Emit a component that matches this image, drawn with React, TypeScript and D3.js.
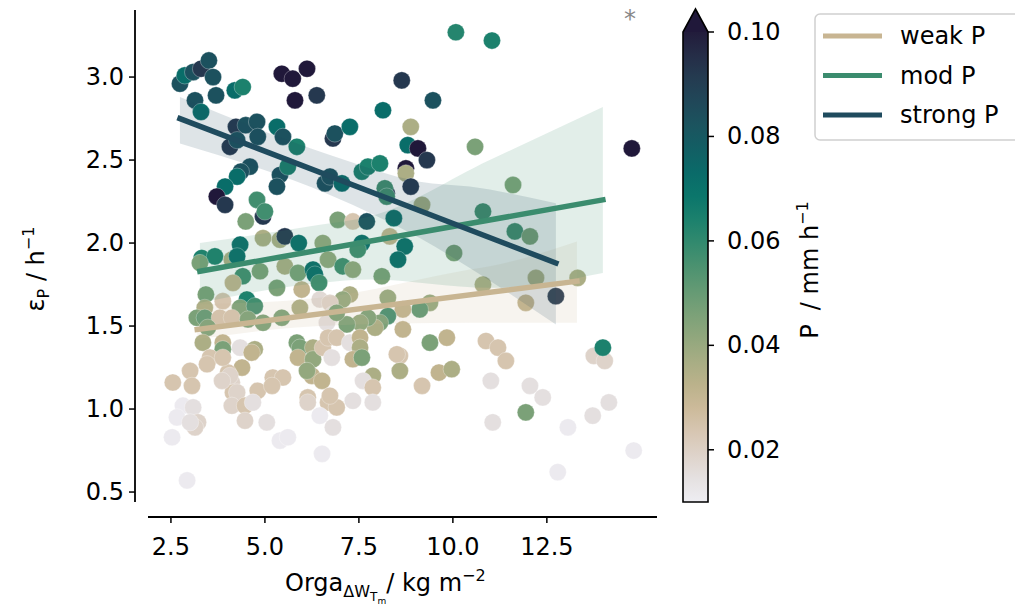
import React, { useEffect, useRef } from "react";
import * as d3 from "d3";

// scatter: organisation (x), epsilon_P (y), precipitation P (colour)
const orgaX = [
  2.74, 2.87, 3.09, 3.3, 3.51, 3.62, 3.14, 3.3, 3.7, 4.2, 4.41, 5.45, 5.74, 6.12, 5.8, 6.38,
  4.23, 4.49, 4.79, 4.81, 5.32, 5.48, 5.85, 4.07, 4.26, 4.6, 4.36, 4.26, 3.94, 3.72, 3.94,
  5.4, 5.61, 5.32, 4.79, 4.95, 5.0, 4.49, 6.6, 6.73, 6.81, 6.86, 7.26, 8.14, 8.64, 9.47,
  8.88, 8.8, 9.07, 9.31, 8.75, 8.75, 8.88, 10.59, 10.08, 11.04, 14.76, 7.58, 7.74, 8.06,
  7.05, 8.24, 8.19, 8.24, 9.18, 10.8, 11.6, 11.65, 12.05, 10.03, 6.94, 7.34, 7.71, 8.43,
  8.32, 8.72, 7.58, 7.47, 8.54, 4.95, 5.4, 5.53, 5.9, 4.34, 3.32, 3.67, 3.27, 4.12, 4.26,
  4.41, 4.87, 5.53, 4.15, 5.32, 5.88, 6.28, 6.33, 6.44, 5.98, 6.54, 6.68, 7.07, 7.34, 8.11,
  3.43, 3.88, 3.4, 4.52, 4.34, 4.73, 3.19, 3.4, 3.8, 4.12, 4.55, 4.95, 5.45, 5.93, 6.46,
  3.48, 3.35, 3.88, 4.34, 3.88, 4.73, 3.54, 3.46, 4.39, 4.65, 5.85, 5.93, 6.28, 5.88, 6.28,
  6.54, 3.01, 2.55, 3.06, 4.02, 4.12, 5.21, 5.48, 6.25, 6.52, 4.15, 4.81, 7.26, 7.07, 6.73,
  8.27, 9.39, 9.12, 8.67, 8.27, 8.06, 7.93, 7.74, 7.53, 7.18, 6.81, 6.65, 6.91, 8.67, 10.8,
  12.21, 13.32, 12.74, 11.94, 9.39, 9.84, 10.88, 11.2, 11.41, 8.59, 8.59, 9.63, 9.97, 9.18,
  11.01, 12.05, 12.39, 11.94, 11.06, 13.06, 13.72, 14.15, 13.75, 14.04, 13.99, 14.81, 12.79,
  6.68, 6.91, 7.26, 7.53, 7.53, 7.34, 6.78, 7.58, 8.51, 7.87, 7.61, 7.87, 7.34, 7.87, 6.68,
  6.91, 6.46, 6.81, 6.52, 6.14, 6.14, 6.12, 6.73, 3.88, 4.07, 3.86, 4.26, 4.12, 4.47, 4.68,
  5.19, 4.47, 5.05, 2.82, 3.09, 2.66, 3.22, 3.14, 3.01, 2.53, 5.4, 5.61, 2.93,
];
const epsY = [
  2.96, 3.01, 3.03, 3.05, 3.1, 3.0, 2.86, 2.79, 2.89, 2.92, 2.94, 3.02, 2.99, 3.05, 2.86, 2.89,
  2.7, 2.71, 2.73, 2.64, 2.7, 2.64, 2.58, 2.58, 2.62, 2.46, 2.43, 2.4, 2.34, 2.28, 2.23,
  2.41, 2.46, 2.34, 2.26, 2.16, 2.19, 2.13, 2.36, 2.4, 2.63, 2.66, 2.7, 2.8, 2.98, 2.86,
  2.7, 2.59, 2.57, 2.5, 2.45, 2.42, 2.34, 2.58, 3.27, 3.22, 2.57, 2.43, 2.46, 2.48,
  2.36, 2.3, 2.33, 2.28, 2.23, 2.19, 2.35, 2.07, 2.04, 1.94, 2.14, 2.13, 2.13, 2.15,
  2.04, 1.98, 2.0, 1.96, 1.9, 2.03, 2.02, 2.04, 2.0, 1.99, 1.91, 1.92, 1.88, 1.9, 1.92,
  1.8, 1.83, 1.86, 1.76, 1.73, 1.82, 1.84, 1.81, 1.76, 1.72, 2.0, 1.9, 1.86, 1.84, 1.8,
  1.69, 1.65, 1.61, 1.66, 1.61, 1.62, 1.55, 1.55, 1.55, 1.55, 1.54, 1.52, 1.55, 1.61, 1.66,
  1.49, 1.4, 1.4, 1.37, 1.36, 1.36, 1.31, 1.27, 1.25, 1.34, 1.4, 1.37, 1.37, 1.31, 1.3,
  1.37, 1.23, 1.16, 1.14, 1.22, 1.16, 1.19, 1.19, 1.2, 1.17, 1.1, 1.11, 1.69, 1.66, 1.64,
  1.67, 1.64, 1.6, 1.6, 1.56, 1.52, 1.49, 1.55, 1.52, 1.51, 1.57, 1.52, 1.58, 1.48, 1.75,
  1.79, 1.79, 1.68, 1.64, 1.4, 1.43, 1.41, 1.37, 1.29, 1.32, 1.23, 1.22, 1.24, 1.14,
  1.17, 1.14, 1.07, 0.98, 0.92, 0.89, 0.96, 1.04, 1.32, 1.29, 1.37, 0.75, 0.62,
  1.43, 1.43, 1.4, 1.43, 1.37, 1.3, 1.31, 1.31, 1.33, 1.2, 1.17, 1.13, 1.05, 1.04, 1.04,
  1.01, 0.96, 0.89, 0.73, 1.07, 1.04, 1.23, 1.08, 1.31, 1.2, 1.17, 1.1, 1.02, 1.02, 1.04,
  1.14, 0.93, 0.92, 1.02, 1.01, 0.95, 0.92, 0.89, 0.92, 0.83, 0.81, 0.83, 0.57,
];
const precip = [
  0.083, 0.072, 0.083, 0.092, 0.083, 0.083, 0.083, 0.072, 0.083, 0.072, 0.064, 0.105, 0.105, 0.105, 0.105, 0.092,
  0.092, 0.083, 0.083, 0.083, 0.072, 0.083, 0.064, 0.092, 0.083, 0.083, 0.083, 0.072, 0.072, 0.105, 0.092,
  0.083, 0.064, 0.083, 0.057, 0.092, 0.057, 0.046, 0.083, 0.083, 0.092, 0.083, 0.072, 0.072, 0.092, 0.083,
  0.036, 0.072, 0.105, 0.092, 0.105, 0.036, 0.092, 0.046, 0.062, 0.064, 0.105, 0.064, 0.064, 0.064,
  0.072, 0.092, 0.057, 0.057, 0.036, 0.057, 0.046, 0.057, 0.046, 0.046, 0.046, 0.024, 0.083, 0.072,
  0.031, 0.072, 0.072, 0.057, 0.072, 0.036, 0.036, 0.092, 0.072, 0.072, 0.064, 0.064, 0.046, 0.036, 0.072,
  0.057, 0.046, 0.036, 0.031, 0.046, 0.046, 0.072, 0.072, 0.057, 0.031, 0.041, 0.041, 0.057, 0.041, 0.046,
  0.046, 0.024, 0.036, 0.064, 0.046, 0.057, 0.046, 0.052, 0.024, 0.024, 0.046, 0.046, 0.046, 0.036, 0.017,
  0.046, 0.036, 0.031, 0.015, 0.046, 0.036, 0.024, 0.024, 0.031, 0.031, 0.046, 0.046, 0.036, 0.031, 0.041,
  0.024, 0.024, 0.024, 0.024, 0.024, 0.019, 0.024, 0.024, 0.031, 0.031, 0.024, 0.024, 0.036, 0.041, 0.019,
  0.041, 0.041, 0.052, 0.031, 0.057, 0.046, 0.036, 0.046, 0.041, 0.046, 0.015, 0.015, 0.046, 0.031, 0.036,
  0.036, 0.036, 0.092, 0.031, 0.046, 0.031, 0.024, 0.024, 0.024, 0.024, 0.036, 0.031, 0.036, 0.024,
  0.015, 0.015, 0.015, 0.046, 0.015, 0.011, 0.015, 0.015, 0.019, 0.019, 0.064, 0.011, 0.011,
  0.024, 0.024, 0.015, 0.031, 0.036, 0.031, 0.015, 0.046, 0.024, 0.036, 0.015, 0.024, 0.015, 0.015, 0.024,
  0.024, 0.011, 0.015, 0.011, 0.024, 0.019, 0.041, 0.024, 0.024, 0.019, 0.019, 0.019, 0.019, 0.024, 0.015,
  0.024, 0.019, 0.015, 0.011, 0.015, 0.011, 0.019, 0.019, 0.015, 0.011, 0.011, 0.011, 0.011,
];

// regression fits per precipitation class
const classes = ["weak P", "mod P", "strong P"];
const fitX = [
  [3.2, 13.3],
  [3.27, 13.99],
  [2.74, 12.74],
];
const fitY = [
  [1.48, 1.77],
  [1.83, 2.26],
  [2.75, 1.88],
];
const bandX = [
  [3.2, 6.46, 10.45, 10.98, 13.3],
  [3.27, 6.46, 7.79, 10.98, 13.99],
  [2.74, 6.73, 9.12, 10.45, 12.74],
];
const bandHi = [
  [1.63, 1.67, 1.84, 1.86, 2.01],
  [2.0, 2.11, 2.16, 2.5, 2.82],
  [2.88, 2.53, 2.37, 2.34, 2.24],
];
const bandLo = [
  [1.42, 1.5, 1.52, 1.52, 1.52],
  [1.64, 1.76, 1.78, 1.73, 1.82],
  [2.6, 2.29, 2.03, 1.85, 1.51],
];
const classColors = ["#c8b592", "#3b8c6e", "#1f4b5e"];

const xTicks = [2.5, 5.0, 7.5, 10.0, 12.5];
const yTicks = [0.5, 1.0, 1.5, 2.0, 2.5, 3.0];
const cbTicks = [0.02, 0.04, 0.06, 0.08, 0.1];

// approximation of cmocean "rain"
const rainStops = [
  "#eeedf2", "#e4e0e1", "#dccfc4", "#d5c2aa", "#c6b58f", "#b1af87", "#98a97f", "#80a379",
  "#669b74", "#4d9270", "#2f896e", "#167f6d", "#04726b", "#0d6667", "#185962", "#1f4c5b",
  "#243f53", "#262f49", "#221c3b",
];

const FONT = "DejaVu Sans, sans-serif";

export default function App() {
  const ref = useRef<SVGSVGElement>(null);

  useEffect(() => {
    const svg = d3.select(ref.current);
    svg.selectAll("*").remove();

    const x = d3.scaleLinear().domain([1.89, 15.43]).range([148, 657]);
    const y = d3.scaleLinear().domain([0.44, 3.404]).range([502, 10]);
    const cb = d3.scaleLinear().domain([0.01, 0.1]).range([502, 32]);
    const colorInterp = d3.interpolateRgbBasis(rainStops);
    const color = (p: number) => colorInterp(Math.max(0, Math.min(1, (p - 0.01) / 0.09)));

    // points
    svg
      .append("g")
      .selectAll("circle")
      .data(orgaX.map((v, i) => ({ x: v, y: epsY[i], p: precip[i] })))
      .enter()
      .append("circle")
      .attr("cx", (d) => x(d.x))
      .attr("cy", (d) => y(d.y))
      .attr("r", 8.6)
      .style("fill", (d) => (d.p > 0.1 ? "#20183a" : color(d.p)))
      .style("stroke", "#ffffff")
      .style("stroke-width", 0.5)
      .style("stroke-opacity", 0.6);

    // confidence bands and fit lines
    classes.forEach((c, k) => {
      const area = d3
        .area<number>()
        .x((d) => x(d))
        .y0((d, i) => y(bandLo[k][i]))
        .y1((d, i) => y(bandHi[k][i]))
        .curve(d3.curveMonotoneX);
      svg
        .append("path")
        .attr("d", area(bandX[k]))
        .style("fill", classColors[k])
        .style("fill-opacity", 0.15);
    });
    classes.forEach((c, k) => {
      svg
        .append("line")
        .attr("x1", x(fitX[k][0]))
        .attr("x2", x(fitX[k][1]))
        .attr("y1", y(fitY[k][0]))
        .attr("y2", y(fitY[k][1]))
        .style("stroke", classColors[k])
        .style("stroke-width", 5.5)
        .style("stroke-linecap", "square");
    });

    // axes
    const axisG = svg.append("g").style("font-family", FONT).style("font-size", "24px");
    axisG
      .append("line")
      .attr("x1", 135)
      .attr("x2", 135)
      .attr("y1", y(3.404))
      .attr("y2", y(0.44))
      .style("stroke", "#000")
      .style("stroke-width", 1.8);
    axisG
      .append("line")
      .attr("x1", x(1.89))
      .attr("x2", x(15.43))
      .attr("y1", 517)
      .attr("y2", 517)
      .style("stroke", "#000")
      .style("stroke-width", 1.8);

    yTicks.forEach((t) => {
      axisG
        .append("line")
        .attr("x1", 129)
        .attr("x2", 135)
        .attr("y1", y(t))
        .attr("y2", y(t))
        .style("stroke", "#000")
        .style("stroke-width", 1.5);
      axisG
        .append("text")
        .attr("x", 124)
        .attr("y", y(t))
        .attr("text-anchor", "end")
        .attr("dominant-baseline", "central")
        .text(t.toFixed(1));
    });
    xTicks.forEach((t) => {
      axisG
        .append("line")
        .attr("x1", x(t))
        .attr("x2", x(t))
        .attr("y1", 517)
        .attr("y2", 523)
        .style("stroke", "#000")
        .style("stroke-width", 1.5);
      axisG
        .append("text")
        .attr("x", x(t))
        .attr("y", 555)
        .attr("text-anchor", "middle")
        .text(t.toFixed(1));
    });

    // y label
    const yl = axisG
      .append("text")
      .attr("transform", "translate(44,269) rotate(-90)")
      .attr("text-anchor", "middle");
    yl.append("tspan").text("ε");
    yl.append("tspan").attr("font-size", 16).attr("dy", 5).text("P");
    yl.append("tspan").attr("dy", -5).text(" / h");
    yl.append("tspan").attr("font-size", 16).attr("dy", -10).text("−1");

    // x label
    const xl = axisG.append("text").attr("x", 285).attr("y", 591);
    xl.append("tspan").text("Orga");
    xl.append("tspan").attr("font-size", 16).attr("dy", 6).text("ΔW");
    xl.append("tspan").attr("font-size", 12).attr("dy", 4).text("T");
    xl.append("tspan").attr("font-size", 9).attr("dy", 3).text("m");
    xl.append("tspan").attr("dy", -13).text("/ kg m");
    xl.append("tspan").attr("font-size", 16).attr("dy", -10).text("−2");

    // asterisk
    axisG
      .append("text")
      .attr("x", 630)
      .attr("y", 27)
      .attr("text-anchor", "middle")
      .style("fill", "#888")
      .text("*");

    // colorbar
    const defs = svg.append("defs");
    const grad = defs
      .append("linearGradient")
      .attr("id", "cbgrad")
      .attr("x1", "0%")
      .attr("x2", "0%")
      .attr("y1", "100%")
      .attr("y2", "0%");
    d3.range(0, 1.0001, 0.05).forEach((t) => {
      grad
        .append("stop")
        .attr("offset", `${t * 100}%`)
        .style("stop-color", colorInterp(t));
    });
    const cbL = 683;
    const cbR = 708;
    svg
      .append("rect")
      .attr("x", cbL)
      .attr("y", cb(0.1))
      .attr("width", cbR - cbL)
      .attr("height", cb(0.01) - cb(0.1))
      .style("fill", "url(#cbgrad)");
    svg
      .append("path")
      .attr("d", `M${cbL},${cb(0.1)} L${(cbL + cbR) / 2},9 L${cbR},${cb(0.1)} Z`)
      .style("fill", "#20183a");
    svg
      .append("path")
      .attr(
        "d",
        `M${cbL},${cb(0.01)} L${cbL},${cb(0.1)} L${(cbL + cbR) / 2},9 L${cbR},${cb(0.1)} L${cbR},${cb(0.01)} Z`
      )
      .style("fill", "none")
      .style("stroke", "#000")
      .style("stroke-width", 1.6);
    cbTicks.forEach((t) => {
      axisG
        .append("line")
        .attr("x1", cbR)
        .attr("x2", cbR + 6)
        .attr("y1", cb(t))
        .attr("y2", cb(t))
        .style("stroke", "#000")
        .style("stroke-width", 1.5);
      axisG
        .append("text")
        .attr("x", cbR + 19)
        .attr("y", cb(t))
        .attr("dominant-baseline", "central")
        .text(t.toFixed(2));
    });
    const cl = axisG
      .append("text")
      .attr("transform", "translate(818,270) rotate(-90)")
      .attr("text-anchor", "middle");
    cl.append("tspan").text("P");
    cl.append("tspan").attr("dx", 14).text("/ mm h");
    cl.append("tspan").attr("font-size", 16).attr("dy", -10).text("−1");

    // legend
    const lg = svg.append("g").style("font-family", FONT).style("font-size", "24px");
    lg.append("rect")
      .attr("x", 815)
      .attr("y", 14)
      .attr("width", 230)
      .attr("height", 126)
      .attr("rx", 5)
      .style("fill", "#fff")
      .style("fill-opacity", 0.8)
      .style("stroke", "#d0d0d0")
      .style("stroke-width", 1.5);
    classes.forEach((c, k) => {
      const ly = 36 + k * 39.5;
      lg.append("line")
        .attr("x1", 823)
        .attr("x2", 882)
        .attr("y1", ly)
        .attr("y2", ly)
        .style("stroke", classColors[k])
        .style("stroke-width", 5);
      lg.append("text")
        .attr("x", 900)
        .attr("y", ly)
        .attr("dominant-baseline", "central")
        .text(c);
    });
  }, []);

  return (
    <div style={{ position: "absolute", left: 0, top: 0 }}>
      <svg ref={ref} width={1015} height={608} style={{ display: "block" }} />
    </div>
  );
}
